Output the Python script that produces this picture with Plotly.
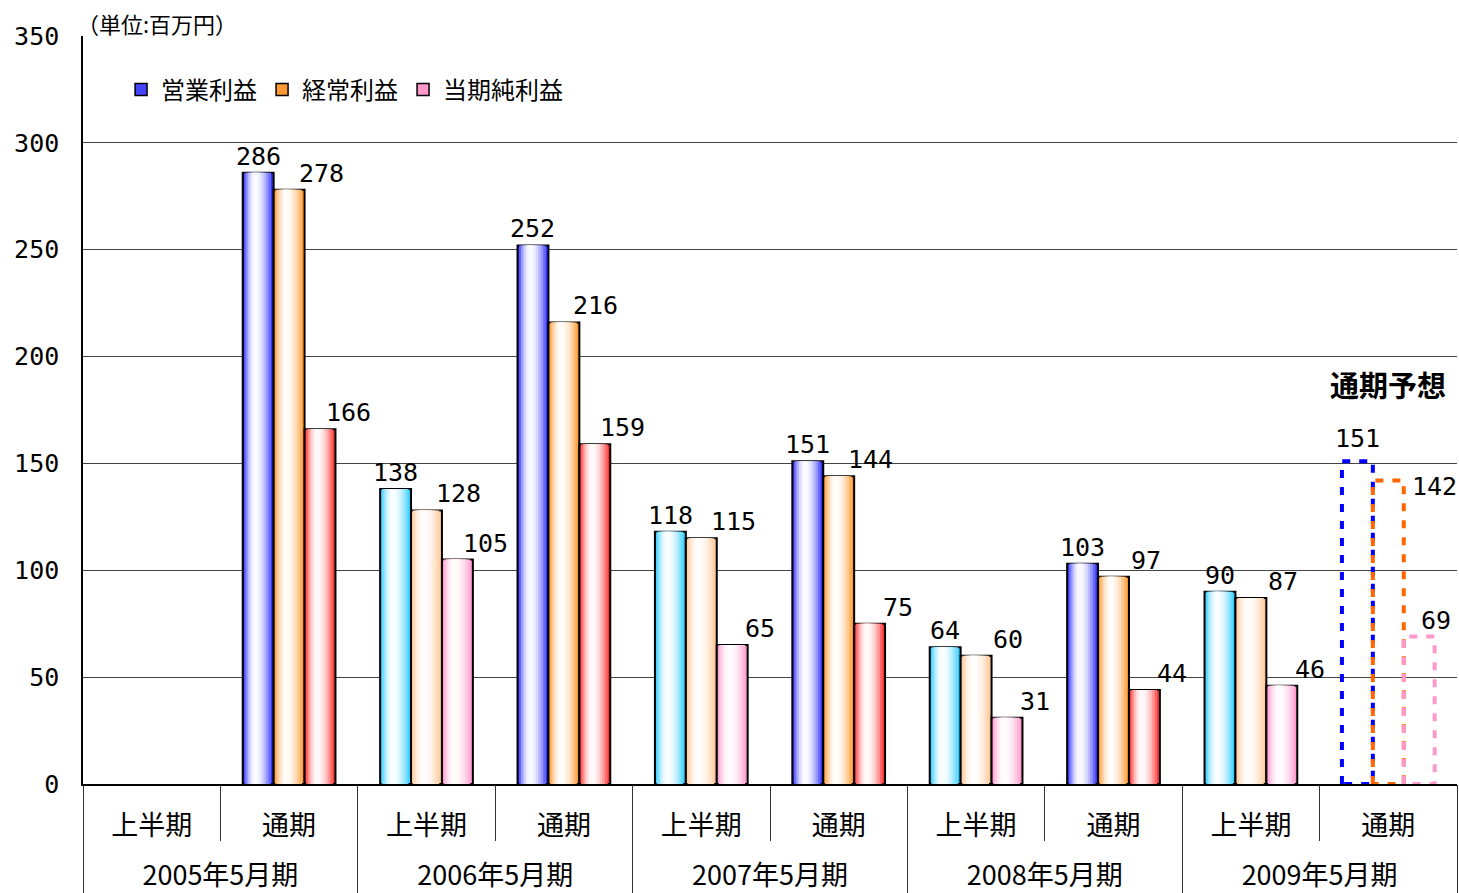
import plotly.graph_objects as go

# ---------------- data ----------------
years = ["2005年5月期", "2006年5月期", "2007年5月期", "2008年5月期", "2009年5月期"]
periods = ["上半期", "通期"]

operating = [None, 286, 138, 252, 118, 151, 64, 103, 90, None]   # 営業利益
ordinary = [None, 278, 128, 216, 115, 144, 60, 97, 87, None]      # 経常利益
net_income = [None, 166, 105, 159, 65, 75, 31, 44, 46, None]      # 当期純利益

forecast_values = [151, 142, 69]          # 2009年5月期 通期予想
forecast_category = ("2009年5月期", "通期")

series_names = ["営業利益", "経常利益", "当期純利益"]
half_colors = ["#33CCFF", "#FFC896", "#FF99CC"]
full_colors = ["#3333FF", "#FF9933", "#FF3333"]
legend_colors = ["#4444FF", "#FF9933", "#FF99CC"]
forecast_colors = ["#0000FF", "#FF6600", "#FF99CC"]

unit_text = "（単位:百万円）"
forecast_text = "通期予想"

# ---------------- helpers ----------------
cat_year = [y for y in years for _ in periods]
cat_period = [p for _ in years for p in periods]
n_cat = len(cat_year)
n_per = len(periods)
xpos = list(range(n_cat))
series_values = [operating, ordinary, net_income]

group_centers = [g * n_per + (n_per - 1) / 2 for g in range(len(years))]
group_bounds = [g * n_per - 0.5 for g in range(len(years) + 1)]
sub_bounds = [g * n_per + k + 0.5 for g in range(len(years)) for k in range(n_per - 1)]

FONT = "Noto Sans CJK JP, Noto Sans, sans-serif"
NUM_FONT = "DejaVu Sans Mono, monospace"
BAR_W = 0.225
XR = [-0.5, n_cat - 0.5]


def hex_to_rgb(h):
    h = h.lstrip("#")
    return tuple(int(h[i:i + 2], 16) for i in (0, 2, 4))


def mix_white(h, t):
    r, g, b = hex_to_rgb(h)
    return "rgb(%d,%d,%d)" % (round(r + (255 - r) * t), round(g + (255 - g) * t), round(b + (255 - b) * t))


fig = go.Figure()

layer_fracs = [1.0, 0.86, 0.72, 0.58, 0.45, 0.32, 0.2, 0.1]
for s, vals in enumerate(series_values):
    edge_cols = [half_colors[s] if p == "上半期" else full_colors[s] for p in cat_period]
    center = (s - 1) * BAR_W
    left = center - BAR_W / 2
    for k, f in enumerate(layer_fracs):
        t = min(1 - f ** 2, 0.97)
        cols = [mix_white(c, t) for c in edge_cols]
        w = BAR_W * f
        lft = left + 0.4 * BAR_W * (1 - f)
        fig.add_trace(go.Bar(
            x=xpos, y=vals,
            width=w, offset=lft,
            marker=dict(color=cols,
                        line=dict(color="black", width=2 if k == 0 else 0)),
            showlegend=False, hoverinfo="skip" if k else None,
            name=series_names[s],
        ))

# legend entries
for s in range(3):
    fig.add_trace(go.Bar(
        x=[None], y=[None], name=series_names[s],
        marker=dict(color=legend_colors[s], line=dict(color="black", width=1.5)),
        showlegend=True,
    ))

# forecast dashed outlines
fi = [i for i in range(n_cat)
      if cat_year[i] == forecast_category[0] and cat_period[i] == forecast_category[1]][0]
for s, v in enumerate(forecast_values):
    c = fi + (s - 1) * BAR_W
    l, r = c - BAR_W / 2, c + BAR_W / 2
    fig.add_trace(go.Scatter(
        x=[l, l, r, r, l], y=[0, v, v, 0, 0],
        mode="lines", line=dict(color=forecast_colors[s], width=4, dash="8px,9px"),
        showlegend=False, hoverinfo="skip",
    ))

# value labels
label_shift = [0, 32, 28]
annotations = []
for s, vals in enumerate(series_values):
    for i, v in enumerate(vals):
        if v is None:
            continue
        annotations.append(dict(
            x=i + (s - 1) * BAR_W, y=v, xref="x", yref="y",
            text=str(v), showarrow=False, yanchor="bottom",
            xshift=label_shift[s], yshift=0,
            font=dict(family=NUM_FONT, size=25, color="black")))
forecast_shift = [(0, 6), (46, -22), (17, 0)]
for s, v in enumerate(forecast_values):
    annotations.append(dict(
        x=fi + (s - 1) * BAR_W, y=v, xref="x", yref="y",
        text=str(v), showarrow=False, yanchor="bottom",
        xshift=forecast_shift[s][0], yshift=forecast_shift[s][1],
        font=dict(family=NUM_FONT, size=25, color="black")))

annotations.append(dict(
    x=fi, y=187, xref="x", yref="y", text="<b>" + forecast_text + "</b>",
    showarrow=False, font=dict(family=FONT, size=29, color="black")))
annotations.append(dict(
    x=-0.006, y=1.017, xref="paper", yref="paper", text=unit_text, showarrow=False,
    xanchor="left", yanchor="middle", font=dict(family=FONT, size=22, color="black")))

fig.update_layout(
    width=1459, height=893,
    margin=dict(l=83, r=2, t=36, b=109),
    paper_bgcolor="white", plot_bgcolor="white",
    barmode="overlay",
    font=dict(family=FONT, color="black"),
    legend=dict(orientation="h", x=0.0277, y=0.928, xanchor="left", yanchor="middle",
                font=dict(family=FONT, size=24), bgcolor="rgba(0,0,0,0)",
                traceorder="normal", tracegroupgap=0),
    annotations=annotations,
    # sub-period labels
    xaxis=dict(range=XR, automargin=False, tickmode="array", tickvals=xpos, ticktext=cat_period,
               showline=True, linecolor="black", linewidth=1.5, ticks="",
               ticklabelstandoff=17, zeroline=False,
               tickfont=dict(family=FONT, size=27, color="black"),
               showgrid=False, fixedrange=True),
    # fiscal-year labels
    xaxis3=dict(overlaying="x", anchor="y", side="bottom", range=XR, automargin=False,
                tickmode="array", tickvals=group_centers, ticktext=years, ticks="",
                ticklabelstandoff=73, showline=False, showgrid=False, zeroline=False,
                tickfont=dict(family=FONT, size=27, color="black")),
    # dividers
    xaxis4=dict(overlaying="x", anchor="y", side="bottom", range=XR, automargin=False,
                tickmode="array", tickvals=group_bounds, ticks="outside", ticklen=115,
                tickcolor="#333", tickwidth=1, showticklabels=False,
                minor=dict(tickmode="array", tickvals=sub_bounds, ticks="outside",
                           ticklen=56, tickcolor="#333", tickwidth=1),
                showline=False, showgrid=False, zeroline=False),
    yaxis=dict(range=[0, 350], dtick=50, showgrid=True, gridcolor="#444", gridwidth=1,
               showline=True, linecolor="black", linewidth=1.5, zeroline=False,
               ticklabelstandoff=17, automargin=False,
               tickfont=dict(family=NUM_FONT, size=25, color="black")),
)

# dummy traces keep the overlay axes drawn
fig.add_trace(go.Scatter(x=[None], y=[None], xaxis="x3", showlegend=False, hoverinfo="skip"))
fig.add_trace(go.Scatter(x=[None], y=[None], xaxis="x4", showlegend=False, hoverinfo="skip"))

fig.write_html("out.html", config={"displayModeBar": False},
               post_script="document.body.style.margin='0';document.body.style.overflow='hidden';")
